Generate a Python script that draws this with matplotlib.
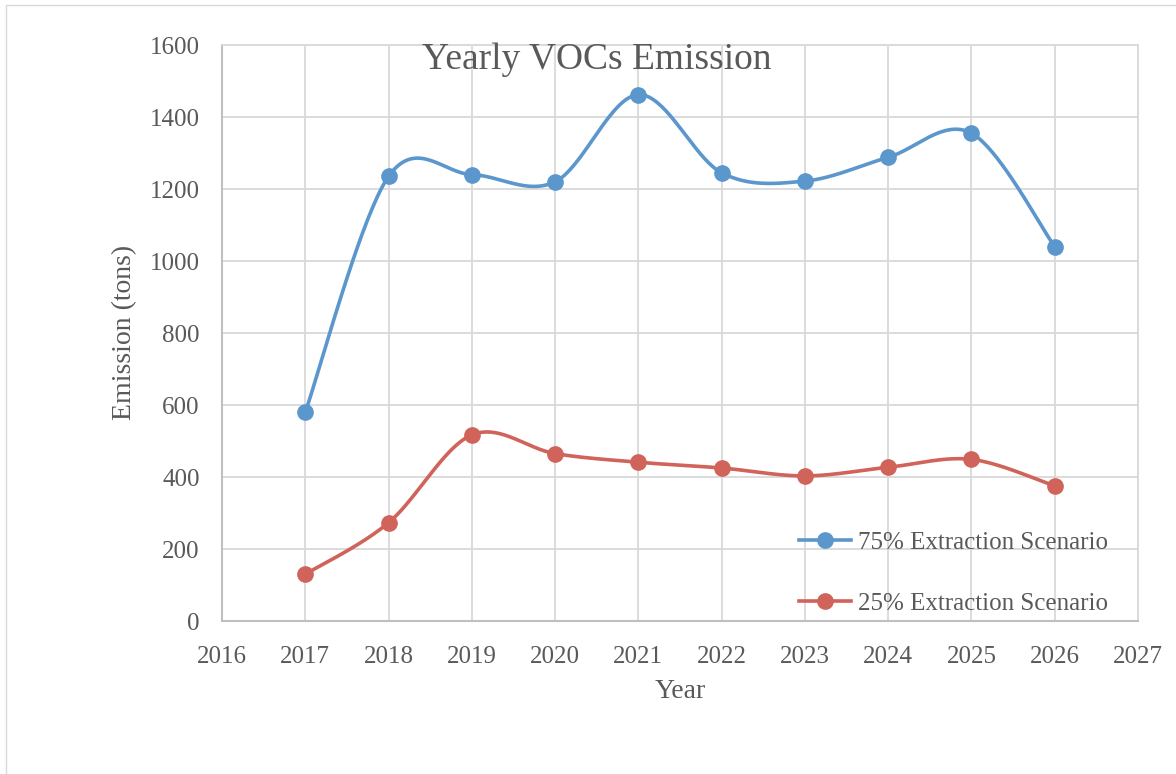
import numpy as np
import matplotlib
matplotlib.use("Agg")
import matplotlib.pyplot as plt
from matplotlib.patches import Rectangle

# ── Data ───────────────────────────────────────────────
years = [2017, 2018, 2019, 2020, 2021, 2022, 2023, 2024, 2025, 2026]
high_extraction = [580, 1235, 1240, 1220, 1462, 1245, 1222, 1288, 1355, 1040]
low_extraction = [130, 273, 517, 465, 441, 425, 403, 427, 449, 375]
series_labels = ["75% Extraction Scenario", "25% Extraction Scenario"]
x_ticks = list(range(2016, 2028))
y_ticks = list(range(0, 1601, 200))

BLUE = "#5b97cc"
RED = "#d0635a"
TEXT = "#595959"
GRID = "#d9d9d9"
FONT = "Liberation Serif"


def smooth(xs, ys, n=40):
    """Excel-like smoothed line: Catmull-Rom control points joined by cubic Beziers."""
    xs = np.asarray(xs, float)
    ys = np.asarray(ys, float)
    px = np.concatenate([[xs[0]], xs, [xs[-1]]])
    py = np.concatenate([[ys[0]], ys, [ys[-1]]])
    t = np.linspace(0, 1, n)
    out_x, out_y = [], []
    for i in range(1, len(px) - 2):
        c1x = px[i] + (px[i + 1] - px[i - 1]) / 6
        c1y = py[i] + (py[i + 1] - py[i - 1]) / 6
        c2x = px[i + 1] - (px[i + 2] - px[i]) / 6
        c2y = py[i + 1] - (py[i + 2] - py[i]) / 6
        b0, b1, b2, b3 = (1 - t) ** 3, 3 * (1 - t) ** 2 * t, 3 * (1 - t) * t ** 2, t ** 3
        out_x.append(b0 * px[i] + b1 * c1x + b2 * c2x + b3 * px[i + 1])
        out_y.append(b0 * py[i] + b1 * c1y + b2 * c2y + b3 * py[i + 1])
    return np.concatenate(out_x), np.concatenate(out_y)


fig = plt.figure(figsize=(11.76, 7.74), dpi=100)
fig.patch.set_facecolor("white")

# chart-area border
fig.add_artist(Rectangle((6 / 1176, -0.1), 1.2, 1.1 - 5 / 774,
                         transform=fig.transFigure, fill=False,
                         edgecolor=GRID, linewidth=1.0))

ax = fig.add_axes([222 / 1176, 1 - 621 / 774, 916 / 1176, 576 / 774])

for ys, color, label in [(high_extraction, BLUE, series_labels[0]),
                         (low_extraction, RED, series_labels[1])]:
    sx, sy = smooth(years, ys)
    ax.plot(sx, sy, color=color, linewidth=2.6, solid_capstyle="round", zorder=3)
    ax.plot(years, ys, linestyle="none", marker="o", markersize=11,
            color=color, zorder=4)
    ax.plot([], [], color=color, linewidth=2.6, marker="o", markersize=11, label=label)

ax.set_xlim(2016, 2027)
ax.set_ylim(0, 1600)
ax.set_xticks(x_ticks)
ax.set_yticks(y_ticks)
ax.grid(True, color=GRID, linewidth=1.3)
ax.set_axisbelow(True)
for side in ["top", "right"]:
    ax.spines[side].set_color(GRID)
    ax.spines[side].set_linewidth(1.3)
for side in ["left", "bottom"]:
    ax.spines[side].set_color("#bfbfbf")
    ax.spines[side].set_linewidth(1.5)
ax.tick_params(length=0, labelsize=18, labelcolor=TEXT)
ax.tick_params(axis="x", pad=18)
ax.tick_params(axis="y", pad=16)
for lbl in ax.get_xticklabels() + ax.get_yticklabels():
    lbl.set_fontfamily(FONT)

fig.text(597 / 1176, 1 - 69 / 774, "Yearly VOCs Emission", ha="center",
         va="baseline", fontsize=27, color=TEXT, family=FONT)
fig.text(680 / 1176, 1 - 692 / 774, "Year", ha="center", va="center",
         fontsize=20, color=TEXT, family=FONT)
fig.text(125 / 1176, 1 - 332 / 774, "Emission (tons)", ha="center", va="center",
         rotation=90, fontsize=20, color=TEXT, family=FONT)

leg = ax.legend(loc="center left", bbox_to_anchor=(799 / 1176, 1 - 573 / 774),
                bbox_transform=fig.transFigure, frameon=False, borderpad=0,
                borderaxespad=0, handlelength=2.1, handletextpad=0.25,
                labelspacing=1.55, prop={"family": FONT, "size": 18})
for txt in leg.get_texts():
    txt.set_color(TEXT)

fig.savefig("out.png", dpi=100, facecolor="white")
